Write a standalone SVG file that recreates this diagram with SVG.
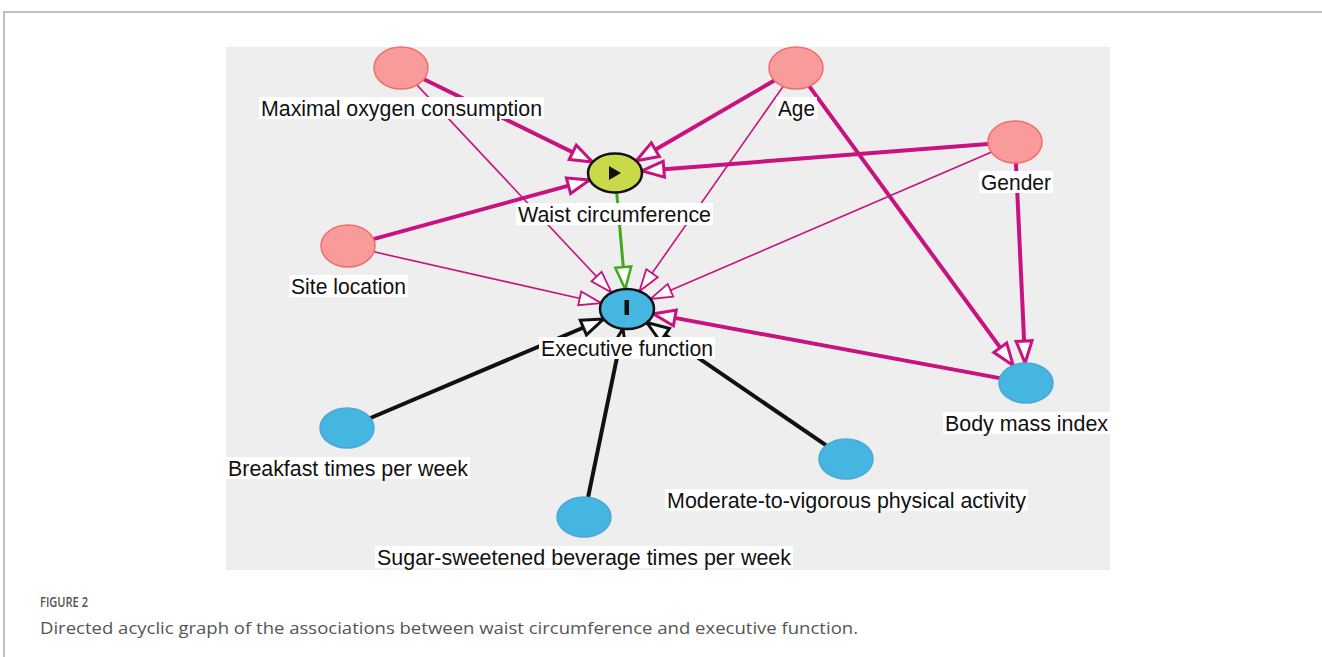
<svg xmlns="http://www.w3.org/2000/svg" width="1322" height="657" viewBox="0 0 1322 657">
<defs>
<style>
.lbl{font-family:"Liberation Sans",Arial,sans-serif;font-size:21.5px;fill:#111;text-anchor:middle}
.lb{fill:#fff}
.pink{fill:#f99b9b;stroke:#f26d6d;stroke-width:1.5}
.blue{fill:#45b5e2;stroke:#4aa8d6;stroke-width:1.5}
.mt{stroke:#c8127f;stroke-width:4;fill:none}
.mn{stroke:#c8127f;stroke-width:1.6;fill:none}
.gr{stroke:#44a81e;stroke-width:3;fill:none}
.bk{stroke:#111;stroke-width:4;fill:none}
</style>
<marker id="aMT" markerUnits="userSpaceOnUse" markerWidth="30" markerHeight="24" refX="22" refY="8" orient="auto" overflow="visible"><path d="M0,0 L22,8 L0,16 Z" fill="#fff" stroke="#c8127f" stroke-width="3" stroke-linejoin="miter"/></marker>
<marker id="aMN" markerUnits="userSpaceOnUse" markerWidth="30" markerHeight="24" refX="22" refY="7" orient="auto" overflow="visible"><path d="M0,0 L22,7 L0,14 Z" fill="#fff" stroke="#c8127f" stroke-width="1.8"/></marker>
<marker id="aGR" markerUnits="userSpaceOnUse" markerWidth="30" markerHeight="24" refX="22" refY="8" orient="auto" overflow="visible"><path d="M0,0 L22,8 L0,16 Z" fill="#fff" stroke="#44a81e" stroke-width="2.5"/></marker>
<marker id="aBK" markerUnits="userSpaceOnUse" markerWidth="30" markerHeight="24" refX="22" refY="8" orient="auto" overflow="visible"><path d="M0,0 L22,8 L0,16 Z" fill="#fff" stroke="#111" stroke-width="3"/></marker>
</defs>
<rect width="1322" height="657" fill="#fff"/>
<path d="M4,657 V12 H1322" fill="none" stroke="#aaa" stroke-width="1.5"/>
<rect x="226" y="47" width="884" height="523" fill="#eeeeee"/>
<g id="connectors">
<line class="mt" x1="423.5" y1="79" x2="592.5" y2="162" marker-end="url(#aMT)"/>
<line class="mt" x1="774.7" y1="80.3" x2="636.3" y2="160.7" marker-end="url(#aMT)"/>
<line class="mt" x1="988.2" y1="144.1" x2="641.9" y2="170.9" marker-end="url(#aMT)"/>
<line class="mt" x1="373.3" y1="239.1" x2="589.7" y2="179.9" marker-end="url(#aMT)"/>
<line class="mn" x1="416.4" y1="84.4" x2="611.6" y2="292.6" marker-end="url(#aMN)"/>
<line class="mn" x1="783.6" y1="85.7" x2="639.4" y2="291.3" marker-end="url(#aMN)"/>
<line class="mn" x1="991.7" y1="152" x2="650.3" y2="299" marker-end="url(#aMN)"/>
<line class="mn" x1="373.8" y1="251.8" x2="601.2" y2="303.2" marker-end="url(#aMN)"/>
<line class="mt" x1="808.8" y1="85.6" x2="1013.2" y2="365.4" marker-end="url(#aMT)"/>
<line class="mt" x1="1015.9" y1="162" x2="1025.1" y2="363" marker-end="url(#aMT)"/>
<line class="mt" x1="999.8" y1="378.1" x2="653.2" y2="313.9" marker-end="url(#aMT)"/>
<line class="gr" x1="616.7" y1="192.4" x2="625.2" y2="289" marker-end="url(#aGR)"/>
<line class="bk" x1="370.4" y1="418" x2="603.6" y2="319" marker-end="url(#aBK)"/>
<line class="bk" x1="588.1" y1="497.2" x2="622.9" y2="328.8" marker-end="url(#aBK)"/>
<line class="bk" x1="826.2" y1="445.4" x2="646.8" y2="322.6" marker-end="url(#aBK)"/>
</g>
<g id="maximal-oxygen">
<ellipse class="pink" cx="401" cy="68" rx="27" ry="21"/>
<rect class="lb" x="259" y="97" width="285" height="22"/>
<text class="lbl" x="401.5" y="115.5" textLength="281" lengthAdjust="spacingAndGlyphs">Maximal oxygen consumption</text>
</g>
<g id="age">
<ellipse class="pink" cx="796" cy="68" rx="27" ry="21"/>
<rect class="lb" x="776" y="97" width="41" height="22"/>
<text class="lbl" x="796.5" y="115.5" textLength="37" lengthAdjust="spacingAndGlyphs">Age</text>
</g>
<g id="gender">
<ellipse class="pink" cx="1015" cy="142" rx="27" ry="21"/>
<rect class="lb" x="979" y="171" width="74" height="22"/>
<text class="lbl" x="1016" y="189.5" textLength="70" lengthAdjust="spacingAndGlyphs">Gender</text>
</g>
<g id="site-location">
<ellipse class="pink" cx="348" cy="246" rx="27" ry="21"/>
<rect class="lb" x="289" y="275" width="119" height="22"/>
<text class="lbl" x="348.5" y="293.5" textLength="115" lengthAdjust="spacingAndGlyphs">Site location</text>
</g>
<g id="waist-circumference">
<ellipse cx="615" cy="173" rx="27" ry="19.5" fill="#c9d94a" stroke="#111" stroke-width="2.5"/>
<path d="M609,166 L621,173 L609,180 Z" fill="#111"/>
<rect class="lb" x="516" y="203" width="197" height="22"/>
<text class="lbl" x="614.5" y="221.5" textLength="193" lengthAdjust="spacingAndGlyphs">Waist circumference</text>
</g>
<g id="executive-function">
<ellipse cx="627" cy="309" rx="27" ry="20" fill="#45b5e2" stroke="#111" stroke-width="2.5"/>
<rect x="624.5" y="300" width="4.5" height="15" fill="#111"/>
<rect class="lb" x="539" y="337" width="176" height="22"/>
<text class="lbl" x="627" y="355.5" textLength="172" lengthAdjust="spacingAndGlyphs">Executive function</text>
</g>
<g id="body-mass-index">
<ellipse class="blue" cx="1026" cy="383" rx="27" ry="20"/>
<rect class="lb" x="943" y="412" width="167" height="22"/>
<text class="lbl" x="1026.5" y="430.5" textLength="163" lengthAdjust="spacingAndGlyphs">Body mass index</text>
</g>
<g id="breakfast">
<ellipse class="blue" cx="347" cy="428" rx="27" ry="20"/>
<rect class="lb" x="226" y="457" width="244" height="22"/>
<text class="lbl" x="348" y="475.5" textLength="240" lengthAdjust="spacingAndGlyphs">Breakfast times per week</text>
</g>
<g id="mvpa">
<ellipse class="blue" cx="846" cy="459" rx="27" ry="20"/>
<rect class="lb" x="665" y="489" width="363" height="22"/>
<text class="lbl" x="846.5" y="507.5" textLength="359" lengthAdjust="spacingAndGlyphs">Moderate-to-vigorous physical activity</text>
</g>
<g id="sugar">
<ellipse class="blue" cx="584" cy="517" rx="27" ry="20"/>
<rect class="lb" x="375" y="546" width="418" height="22"/>
<text class="lbl" x="584" y="564.5" textLength="414" lengthAdjust="spacingAndGlyphs">Sugar-sweetened beverage times per week</text>
</g>
<text x="40" y="607" font-family="'Open Sans','Liberation Sans',sans-serif" font-size="14" font-weight="600" fill="#555" textLength="48" lengthAdjust="spacingAndGlyphs">FIGURE 2</text>
<text x="40" y="634" font-family="'Open Sans','Liberation Sans',sans-serif" font-size="16" fill="#555" textLength="818" lengthAdjust="spacingAndGlyphs">Directed acyclic graph of the associations between waist circumference and executive function.</text>
</svg>
